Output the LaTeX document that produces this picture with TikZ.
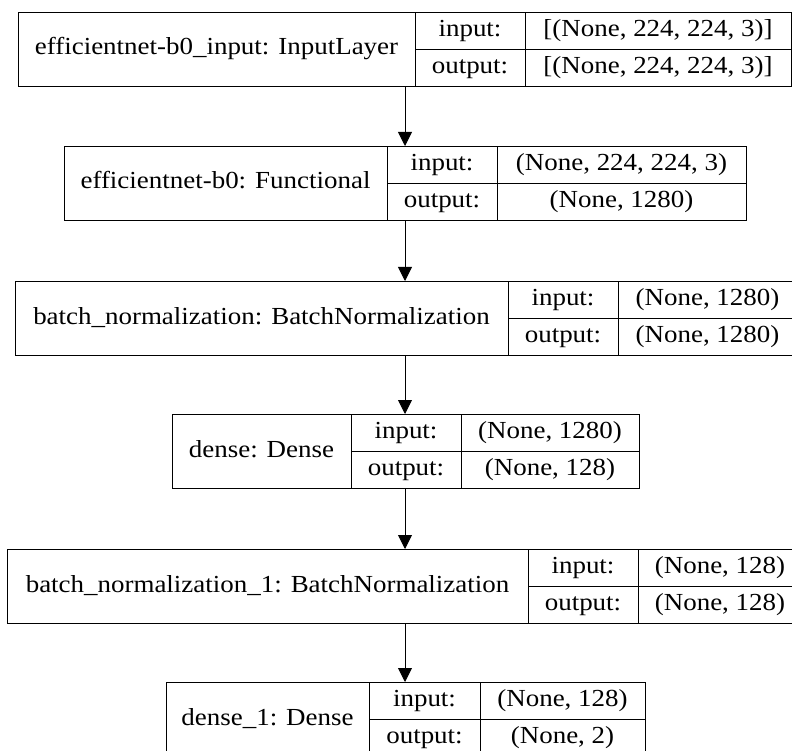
\documentclass[tikz,border=0pt]{standalone}
\usepackage{fontspec}
\setmainfont{Liberation Serif}[FakeStretch=1.1]
\usetikzlibrary{arrows.meta}
\begin{document}
\begin{tikzpicture}[x=1pt, y=-1pt,
	            box/.style={draw, line width=0.9pt, inner sep=0pt, outer sep=0pt, anchor=north west, text height=16.5pt, text depth=5pt, font=\fontsize{24.5}{30}\selectfont},
	            lbl/.style={box, minimum height=74.5pt},
	            cell/.style={box, minimum height=37.25pt},
	            arr/.style={line width=0.9pt, -{Triangle[width=14pt, length=14pt]}}]
	            \clip (0,0) rectangle (792,751);
	            \coordinate (axis) at (405,0);
	            \node[lbl, minimum width=397pt] at (18,12) (l1) {efficientnet-b0\_input: InputLayer};
	            \node[cell, minimum width=110pt] at (l1.north east) (l1in) {input:};
	            \node[cell, minimum width=110pt] at (l1in.south west) (l1out) {output:};
	            \node[cell, minimum width=266pt] at (l1in.north east) (l1inv) {[(None, 224, 224, 3)]};
	            \node[cell, minimum width=266pt] at (l1inv.south west) (l1outv) {[(None, 224, 224, 3)]};
	            \node[lbl, minimum width=323pt] at (64,146) (l2) {efficientnet-b0: Functional};
	            \node[cell, minimum width=110pt] at (l2.north east) (l2in) {input:};
	            \node[cell, minimum width=110pt] at (l2in.south west) (l2out) {output:};
	            \node[cell, minimum width=249pt] at (l2in.north east) (l2inv) {(None, 224, 224, 3)};
	            \node[cell, minimum width=249pt] at (l2inv.south west) (l2outv) {(None, 1280)};
	            \node[lbl, minimum width=493pt] at (15,281) (l3) {batch\_normalization: BatchNormalization};
	            \node[cell, minimum width=110pt] at (l3.north east) (l3in) {input:};
	            \node[cell, minimum width=110pt] at (l3in.south west) (l3out) {output:};
	            \node[cell, minimum width=179pt] at (l3in.north east) (l3inv) {(None, 1280)};
	            \node[cell, minimum width=179pt] at (l3inv.south west) (l3outv) {(None, 1280)};
	            \node[lbl, minimum width=179pt] at (172,414) (l4) {dense: Dense};
	            \node[cell, minimum width=110pt] at (l4.north east) (l4in) {input:};
	            \node[cell, minimum width=110pt] at (l4in.south west) (l4out) {output:};
	            \node[cell, minimum width=178pt] at (l4in.north east) (l4inv) {(None, 1280)};
	            \node[cell, minimum width=178pt] at (l4inv.south west) (l4outv) {(None, 128)};
	            \node[lbl, minimum width=521pt] at (7,549) (l5) {batch\_normalization\_1: BatchNormalization};
	            \node[cell, minimum width=110pt] at (l5.north east) (l5in) {input:};
	            \node[cell, minimum width=110pt] at (l5in.south west) (l5out) {output:};
	            \node[cell, minimum width=164pt] at (l5in.north east) (l5inv) {(None, 128)};
	            \node[cell, minimum width=164pt] at (l5inv.south west) (l5outv) {(None, 128)};
	            \node[lbl, minimum width=203pt] at (166,682) (l6) {dense\_1: Dense};
	            \node[cell, minimum width=111pt] at (l6.north east) (l6in) {input:};
	            \node[cell, minimum width=111pt] at (l6in.south west) (l6out) {output:};
	            \node[cell, minimum width=165pt] at (l6in.north east) (l6inv) {(None, 128)};
	            \node[cell, minimum width=165pt] at (l6inv.south west) (l6outv) {(None, 2)};
	            \draw[arr] (l1.south -| axis) -- (l2.north -| axis);
	            \draw[arr] (l2.south -| axis) -- (l3.north -| axis);
	            \draw[arr] (l3.south -| axis) -- (l4.north -| axis);
	            \draw[arr] (l4.south -| axis) -- (l5.north -| axis);
	            \draw[arr] (l5.south -| axis) -- (l6.north -| axis);
            \end{tikzpicture}
\end{document}
